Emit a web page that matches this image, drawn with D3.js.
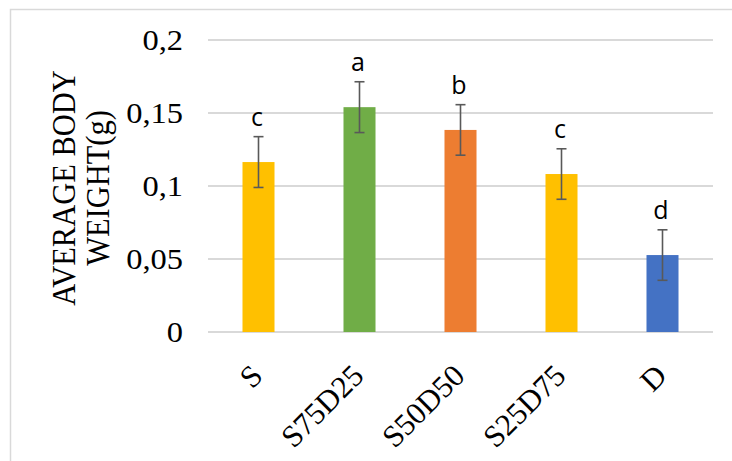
<!DOCTYPE html>
<html>
<head>
<meta charset="utf-8">
<script src="https://cdn.jsdelivr.net/npm/d3@7/dist/d3.min.js"></script>
<style>
  html, body { margin: 0; padding: 0; background: #fff; }
  svg { display: block; }
</style>
</head>
<body>
<svg id="chart" width="732" height="461"></svg>
<script>
// Treatments and their mean body weight (g) with error (±) and significance letters
const categories = ["S", "S75D25", "S50D50", "S25D75", "D"];
const means = [0.1164, 0.154, 0.1384, 0.1082, 0.0527];
const errors = [0.0174, 0.0174, 0.0173, 0.0173, 0.0173];
const letters = ["c", "a", "b", "c", "d"];
const barColors = ["#FFC000", "#70AD47", "#ED7D31", "#FFC000", "#4472C4"];
const yTicks = [0, 0.05, 0.1, 0.15, 0.2];
const yTickLabels = ["0", "0,05", "0,1", "0,15", "0,2"];
const yTitleLines = ["AVERAGE BODY", "WEIGHT(g)"];

const svg = d3.select("#chart");
const serif = "'Liberation Serif', 'Times New Roman', serif";
const stretch = 1.1; // upright serif labels are drawn slightly wide

// chart frame
svg.append("rect")
  .attr("x", 10.5).attr("y", 9.5)
  .attr("width", 760).attr("height", 480)
  .attr("fill", "none").attr("stroke", "#d9d9d9").attr("stroke-width", 1.5);

const plot = { left: 208, right: 713, top: 40, bottom: 332 };

const x = d3.scaleBand()
  .domain(categories)
  .range([plot.left, plot.right])
  .paddingInner(0.683)
  .paddingOuter(0.3415);

const y = d3.scaleLinear()
  .domain([0, 0.2])
  .range([plot.bottom, plot.top]);

// horizontal gridlines
svg.append("g").selectAll("line")
  .data(yTicks)
  .join("line")
  .attr("x1", plot.left).attr("x2", plot.right)
  .attr("y1", d => y(d)).attr("y2", d => y(d))
  .attr("stroke", "#d9d9d9").attr("stroke-width", 2);

// y tick labels
svg.append("g").selectAll("text")
  .data(yTicks)
  .join("text")
  .attr("transform", d => `translate(183,${y(d) + 10}) scale(${stretch},1)`)
  .attr("text-anchor", "end")
  .attr("font-family", serif)
  .attr("font-size", 29.5)
  .attr("fill", "#000")
  .text((d, i) => yTickLabels[i]);

// y axis title (two lines)
const title = svg.append("text")
  .attr("transform", `translate(74.5,188) scale(${stretch},1) rotate(-90)`)
  .attr("text-anchor", "middle")
  .attr("font-family", serif)
  .attr("font-size", 30.5)
  .attr("fill", "#000");
title.selectAll("tspan")
  .data(yTitleLines)
  .join("tspan")
  .attr("x", 0)
  .attr("y", (d, i) => i * 31.4)
  .text(d => d);

// bars
svg.append("g").selectAll("rect")
  .data(categories)
  .join("rect")
  .attr("x", d => x(d))
  .attr("width", x.bandwidth())
  .attr("y", (d, i) => y(means[i]))
  .attr("height", (d, i) => y(0) - y(means[i]))
  .attr("fill", (d, i) => barColors[i]);

// error bars
const eb = svg.append("g")
  .attr("stroke", "#595959").attr("stroke-width", 1.6);
categories.forEach((c, i) => {
  const cx = x(c) + x.bandwidth() / 2;
  const top = y(means[i] + errors[i]);
  const bot = y(means[i] - errors[i]);
  eb.append("line").attr("x1", cx).attr("x2", cx).attr("y1", top).attr("y2", bot);
  eb.append("line").attr("x1", cx - 5).attr("x2", cx + 5).attr("y1", top).attr("y2", top);
  eb.append("line").attr("x1", cx - 5).attr("x2", cx + 5).attr("y1", bot).attr("y2", bot);
});

// significance letters
svg.append("g").selectAll("text")
  .data(categories)
  .join("text")
  .attr("x", d => x(d) + x.bandwidth() / 2 - 1.5)
  .attr("y", (d, i) => y(means[i] + errors[i]) - 11)
  .attr("text-anchor", "middle")
  .attr("font-family", "'Open Sans', 'Liberation Sans', sans-serif")
  .attr("font-size", 25)
  .attr("fill", "#000")
  .text((d, i) => letters[i]);

// category labels, rotated 45 degrees
svg.append("g").selectAll("text")
  .data(categories)
  .join("text")
  .attr("transform", d => `translate(${x(d) + x.bandwidth() / 2 + 6},377.5) rotate(-45)`)
  .attr("text-anchor", "end")
  .attr("font-family", serif)
  .attr("font-size", 31)
  .attr("fill", "#000")
  .text(d => d);
</script>
</body>
</html>
